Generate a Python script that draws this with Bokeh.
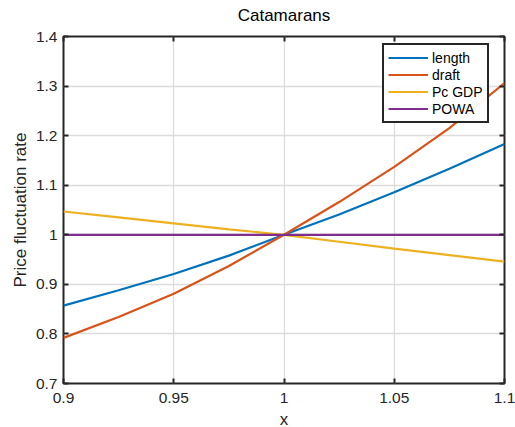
from bokeh.plotting import figure
from bokeh.models import (LinearAxis, FixedTicker, CustomJSTickFormatter, Legend, LegendItem,
                          Range1d, CustomLabelingPolicy)
from bokeh.embed import file_html
from bokeh.resources import INLINE

x = [0.9, 0.925, 0.95, 0.975, 1.0, 1.025, 1.05, 1.075, 1.1]
length = [0.857, 0.888, 0.921, 0.958, 1.0, 1.041, 1.086, 1.133, 1.183]
draft = [0.792, 0.834, 0.881, 0.937, 1.0, 1.066, 1.137, 1.215, 1.306]
pc_gdp = [1.047, 1.035, 1.023, 1.011, 1.0, 0.986, 0.972, 0.959, 0.946]
powa = [1.0, 1.0, 1.0, 1.0, 1.0, 1.0, 1.0, 1.0, 1.0]
series_names = ["length", "draft", "Pc GDP", "POWA"]
colors = ["#0072BD", "#D95319", "#EDB120", "#7E2F8E"]
x_ticks = [0.9, 0.95, 1.0, 1.05, 1.1]
y_ticks = [0.7, 0.8, 0.9, 1.0, 1.1, 1.2, 1.3, 1.4]

FONT = "Liberation Sans"
AX = "#262626"

p = figure(frame_width=441, frame_height=347, output_backend="svg", toolbar_location=None,
           x_range=Range1d(0.9, 1.1), y_range=Range1d(0.7, 1.4),
           min_border_left=63, min_border_right=11, min_border_top=36, min_border_bottom=43,
           x_axis_label="x", y_axis_label="Price fluctuation rate")
p.background_fill_color = "white"
p.border_fill_color = "white"
p.outline_line_color = AX
p.outline_line_width = 2

p.title.text = "Catamarans"
p.title.align = "center"
p.title.text_font = FONT
p.title.text_font_size = "17px"
p.title.text_font_style = "normal"
p.title.text_color = "black"
p.title.standoff = 2

fmt = CustomJSTickFormatter(code="return Number(tick.toFixed(4)).toString();")

for ax, ticks in ((p.xaxis[0], x_ticks), (p.yaxis[0], y_ticks)):
    ax.ticker = FixedTicker(ticks=ticks)
    ax.formatter = fmt
    ax.major_tick_in = 5
    ax.major_tick_out = 0
    ax.minor_tick_line_color = None
    ax.major_tick_line_color = AX
    ax.major_tick_line_width = 2
    ax.axis_line_color = None
    ax.major_label_text_font = FONT
    ax.major_label_text_font_size = "15.5px"
    ax.major_label_text_color = AX
    ax.axis_label_text_font = FONT
    ax.axis_label_text_font_size = "17px"
    ax.axis_label_text_font_style = "normal"
    ax.axis_label_text_color = AX
p.xaxis[0].major_label_standoff = 9
p.xaxis[0].axis_label_standoff = 4
p.yaxis[0].major_label_standoff = 6
p.yaxis[0].axis_label_standoff = 3

no_labels = "return [];"
for loc, ticks in (("above", x_ticks), ("right", y_ticks)):
    a = LinearAxis(ticker=FixedTicker(ticks=ticks), major_tick_in=5, major_tick_out=0,
                   minor_tick_line_color=None, major_tick_line_color=AX, major_tick_line_width=2,
                   axis_line_color=None, major_label_standoff=0,
                   major_label_text_font_size="10px",
                   major_label_policy=CustomLabelingPolicy(code=no_labels))
    p.add_layout(a, loc)

p.xgrid.ticker = FixedTicker(ticks=x_ticks)
p.ygrid.ticker = FixedTicker(ticks=y_ticks)
for g in (p.xgrid[0], p.ygrid[0]):
    g.grid_line_color = "#dcdcdc"
    g.grid_line_width = 1.3

items = []
for name, ys, c in zip(series_names, [length, draft, pc_gdp, powa], colors):
    r = p.line(x, ys, line_color=c, line_width=2.2)
    items.append(LegendItem(label=name, renderers=[r]))

legend = Legend(items=items, location=(319, 260))
legend.border_line_color = AX
legend.border_line_width = 2
legend.border_line_alpha = 1.0
legend.background_fill_color = "white"
legend.label_text_font = FONT
legend.label_text_font_size = "14px"
legend.label_text_color = "black"
legend.glyph_width = 40
legend.glyph_height = 17
legend.label_height = 17
legend.label_standoff = 4
legend.spacing = 0
legend.padding = 4
legend.margin = 0
p.add_layout(legend, "center")

open("out.html", "w").write(file_html(p, INLINE))
